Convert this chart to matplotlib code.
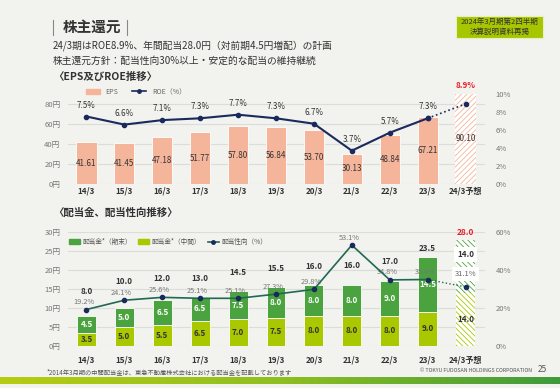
import matplotlib
matplotlib.use("Agg")
import matplotlib.pyplot as plt
from matplotlib.patches import Rectangle
from matplotlib.colors import LinearSegmentedColormap
import numpy as np

plt.rcParams['font.family'] = ['Noto Sans CJK JP', 'DejaVu Sans']
plt.rcParams['hatch.linewidth'] = 0.6

# data
years = ["14/3", "15/3", "16/3", "17/3", "18/3", "19/3", "20/3", "21/3", "22/3", "23/3", "24/3予想"]
eps = [41.61, 41.45, 47.18, 51.77, 57.80, 56.84, 53.70, 30.13, 48.84, 67.21, 90.10]
roe = [7.5, 6.6, 7.1, 7.3, 7.7, 7.3, 6.7, 3.7, 5.7, 7.3, 8.9]
div_interim = [3.5, 5.0, 5.5, 6.5, 7.0, 7.5, 8.0, 8.0, 8.0, 9.0, 14.0]
div_yearend = [4.5, 5.0, 6.5, 6.5, 7.5, 8.0, 8.0, 8.0, 9.0, 14.5, 14.0]
payout = [19.2, 24.1, 25.6, 25.1, 25.1, 27.3, 29.8, 53.1, 34.8, 35.0, 31.1]

BG = '#f2f2ee'
SALMON = '#f4b59b'
NAVY = '#1b2a5c'
DKGREEN = '#4ba33f'
LTGREEN = '#a9c800'
TEAL = '#1e6a53'
GRID = '#dcdcd8'
TXT = '#333333'

W, H = 560, 388
fig = plt.figure(figsize=(5.6, 3.88), dpi=100, facecolor=BG)


def px(x0, y0, x1, y1):
    return [x0 / W, 1 - y1 / H, (x1 - x0) / W, (y1 - y0) / H]


x = np.arange(len(years))
n = len(years)

# header
fig.text(63 / W, 1 - 27 / H, "株主還元", fontsize=10.5, fontweight='bold', color=TXT, va='center')
for xv in (53, 127):
    fig.add_artist(plt.Line2D([xv / W, xv / W], [1 - 20 / H, 1 - 35 / H], color='#888888', lw=0.8))
fig.text(53 / W, 1 - 46 / H, "24/3期はROE8.9%、年間配当28.0円（対前期4.5円増配）の計画",
         fontsize=7, color=TXT, va='center')
fig.text(53 / W, 1 - 61 / H, "株主還元方針：配当性向30%以上・安定的な配当の維持継続",
         fontsize=7, color=TXT, va='center')
fig.text(53 / W, 1 - 77 / H, "〈EPS及びROE推移〉", fontsize=7.5, fontweight='bold', color=TXT, va='center')
fig.text(53 / W, 1 - 213 / H, "〈配当金、配当性向推移〉", fontsize=7.5, fontweight='bold', color=TXT, va='center')

fig.add_artist(Rectangle((456 / W, 1 - 38 / H), 87 / W, 22 / H, transform=fig.transFigure,
                         facecolor='#a7c600', edgecolor='#e8efc0', lw=0.8))
fig.text(499.5 / W, 1 - 27 / H, "2024年3月期第2四半期\n決算説明資料再掲", fontsize=5.4,
         color=TXT, ha='center', va='center', linespacing=1.3)

# ---------- EPS / ROE ----------
ax1 = fig.add_axes(px(67.5, 94, 484.5, 184))
ax1.set_facecolor(BG)
ax1.set_xlim(-0.5, n - 0.5)
ax1.set_ylim(0, 90)
ax1.set_yticks([0, 20, 40, 60, 80])
ax1.set_yticklabels([f"{v}円" for v in [0, 20, 40, 60, 80]])
ax1.grid(axis='y', color=GRID, lw=0.8)
ax1.set_axisbelow(True)
for s in ax1.spines.values():
    s.set_visible(False)
ax1.tick_params(length=0, labelsize=5.5, labelcolor='#777777', pad=5)
ax1.set_xticks(x)
ax1.set_xticklabels(years, fontsize=5.8, fontweight='bold', color=TXT)
ax1.tick_params(axis='x', pad=2)

bw = 0.53
ax1.bar(x[:-1], eps[:-1], width=bw, color=SALMON, edgecolor='white', lw=0.6, zorder=2)
ax1.bar(x[-1], eps[-1], width=bw, color='white', edgecolor=SALMON, hatch='//////', lw=0, zorder=2)
for i, v in enumerate(eps):
    ax1.text(i, v / 2, f"{v:.2f}", ha='center', va='center', fontsize=5.8, color=TXT, zorder=5)

ax1r = ax1.twinx()
ax1r.set_ylim(0, 10)
ax1r.set_yticks([0, 2, 4, 6, 8, 10])
ax1r.set_yticklabels([f"{v}%" for v in [0, 2, 4, 6, 8, 10]])
ax1r.tick_params(length=0, labelsize=5.5, labelcolor='#777777', pad=8)
for s in ax1r.spines.values():
    s.set_visible(False)
ax1r.plot(x[:-1], roe[:-1], color=NAVY, lw=1.5, marker='o', ms=3, zorder=4)
ax1r.plot(x[-2:], roe[-2:], color=NAVY, lw=1.2, ls=':', marker='o', ms=3, zorder=4)
for i, v in enumerate(roe[:-1]):
    ax1r.annotate(f"{v}%", (i, v), xytext=(0, 5), textcoords='offset points', ha='center',
                  va='bottom', fontsize=5.8, color=TXT)
ax1r.annotate(f"{roe[-1]}%", (x[-1], eps[-1] / 9), xytext=(0, 3), textcoords='offset points',
              ha='center', va='bottom', fontsize=5.8, color='#e8202a', fontweight='bold')

ax1.legend(handles=[Rectangle((0, 0), 1, 1, color=SALMON),
                    plt.Line2D([], [], color=NAVY, marker='o', ms=2.5, lw=1.2)],
           labels=["EPS", "ROE（%）"], loc='center', bbox_to_anchor=(136 / W, 1 - 92 / H),
           bbox_transform=fig.transFigure, ncol=2, frameon=False, fontsize=5,
           handlelength=2.0, handleheight=0.8, columnspacing=2.0, labelcolor='#666666')

# ---------- dividends / payout ----------
ax2 = fig.add_axes(px(67.5, 232, 484.5, 346))
ax2.set_facecolor(BG)
ax2.set_xlim(-0.5, n - 0.5)
ax2.set_ylim(0, 30)
ax2.set_yticks(range(0, 31, 5))
ax2.set_yticklabels([f"{v}円" for v in range(0, 31, 5)])
ax2.grid(axis='y', color=GRID, lw=0.8)
ax2.set_axisbelow(True)
for s in ax2.spines.values():
    s.set_visible(False)
ax2.tick_params(length=0, labelsize=5.5, labelcolor='#777777', pad=5)
ax2.set_xticks(x)
ax2.set_xticklabels(years, fontsize=5.8, fontweight='bold', color=TXT)
ax2.tick_params(axis='x', pad=7)

bw2 = 0.5
ax2.bar(x[:-1], div_interim[:-1], width=bw2, color=LTGREEN, edgecolor='white', lw=0.6, zorder=2)
ax2.bar(x[:-1], div_yearend[:-1], bottom=div_interim[:-1], width=bw2, color=DKGREEN,
        edgecolor='white', lw=0.6, zorder=2)
ax2.bar(x[-1], div_interim[-1], width=bw2, color='white', edgecolor=LTGREEN, hatch='\\\\\\\\\\\\',
        lw=0, zorder=2)
ax2.bar(x[-1], div_yearend[-1], bottom=div_interim[-1], width=bw2, color='white', edgecolor=DKGREEN,
        hatch='\\\\\\\\\\\\', lw=0, zorder=2)

totals = [a + b for a, b in zip(div_interim, div_yearend)]
for i in range(n - 1):
    ax2.text(i, div_interim[i] / 2, f"{div_interim[i]:.1f}", ha='center', va='center',
             fontsize=5.8, color=TXT, fontweight='bold', zorder=5)
    ax2.text(i, div_interim[i] + div_yearend[i] / 2, f"{div_yearend[i]:.1f}", ha='center',
             va='center', fontsize=5.8, color='white', fontweight='bold', zorder=5)
    # place the total above the bar or above the payout marker, whichever is close
    d = payout[i] / 2 - totals[i]
    if d > 4:
        anchor, off = totals[i], 11
    elif d < -4:
        anchor, off = totals[i], 3
    else:
        anchor, off = max(totals[i], payout[i] / 2), 10
    ax2.annotate(f"{totals[i]:.1f}", (i, anchor), xytext=(0, off),
                 textcoords='offset points', ha='center', va='bottom', fontsize=5.8,
                 color=TXT, fontweight='bold')
ax2.text(x[-1], div_interim[-1] / 2, f"{div_interim[-1]:.1f}", ha='center', va='center',
         fontsize=5.8, color=TXT, fontweight='bold', zorder=5)
ax2.text(x[-1], div_interim[-1] + div_yearend[-1] * 0.72, f"{div_yearend[-1]:.1f}", ha='center',
         va='center', fontsize=5.8, color=TXT, fontweight='bold', zorder=5,
         bbox=dict(facecolor='white', edgecolor='none', pad=2.2))
ax2.annotate(f"{totals[-1]:.1f}", (x[-1], totals[-1]), xytext=(0, 2), textcoords='offset points',
             ha='center', va='bottom', fontsize=6, color='#e8202a', fontweight='bold')

ax2r = ax2.twinx()
ax2r.set_ylim(0, 60)
ax2r.set_yticks([0, 20, 40, 60])
ax2r.set_yticklabels([f"{v}%" for v in [0, 20, 40, 60]])
ax2r.tick_params(length=0, labelsize=5.5, labelcolor='#777777', pad=8)
for s in ax2r.spines.values():
    s.set_visible(False)
ax2r.plot(x[:-1], payout[:-1], color=TEAL, lw=1.2, zorder=4)
ax2r.plot(x[-2:], payout[-2:], color=TEAL, lw=1.0, ls=':', zorder=4)
ax2r.plot(x, payout, ls='none', marker='o', ms=3, color=NAVY, zorder=5)
for i, v in enumerate(payout[:-1]):
    ax2r.annotate(f"{v}%", (i, v), xytext=(-2, 2.5), textcoords='offset points', ha='center',
                  va='bottom', fontsize=5.3, color='#777777')
ax2r.annotate(f"{payout[-1]}%", (x[-1], payout[-1]), xytext=(0, 9), textcoords='offset points',
              ha='center', va='center', fontsize=5.5, color='#666666',
              bbox=dict(facecolor='white', edgecolor='none', pad=2.2))

ax2.legend(handles=[Rectangle((0, 0), 1, 1, color=DKGREEN), Rectangle((0, 0), 1, 1, color=LTGREEN),
                    plt.Line2D([], [], color=TEAL, marker='o', mfc=NAVY, mec=NAVY, ms=2.5, lw=1.2)],
           labels=["配当金*（期末）", "配当金*（中間）", "配当性向（%）"], loc='center',
           bbox_to_anchor=(168 / W, 1 - 242 / H), bbox_transform=fig.transFigure, ncol=3,
           frameon=False, fontsize=4.8, handlelength=1.6, handleheight=0.7, columnspacing=1.0,
           handletextpad=0.4, labelcolor='#555555')

# footer
fig.text(47 / W, 1 - 372 / H, "*2014年3月期の中間配当金は、東急不動産株式会社における配当金を記載しております",
         fontsize=4.5, color='#555555', va='center')
fig.text(532 / W, 1 - 371 / H, "© TOKYU FUDOSAN HOLDINGS CORPORATION", fontsize=3.8,
         color='#555555', va='center', ha='right')
fig.text(542 / W, 1 - 370 / H, "25", fontsize=6, color='#555555', va='center', ha='center')

grad = np.linspace(0, 1, 256).reshape(1, -1)
gax = fig.add_axes(px(0, 377, 560, 384))
gax.axis('off')
cmap = LinearSegmentedColormap.from_list('g', ['#b6cc12', '#8fbf20', '#3f9a3c'])
gax.imshow(grad, aspect='auto', cmap=cmap, extent=(0, 1, 0, 1))

fig.savefig("out.png", dpi=100, facecolor=BG)
